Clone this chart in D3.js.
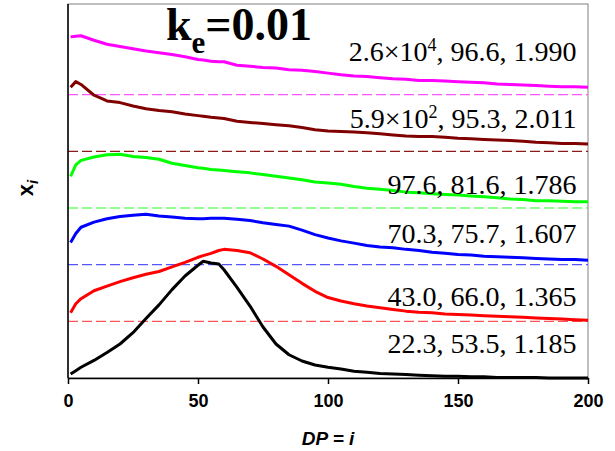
<!DOCTYPE html>
<html>
<head>
<meta charset="utf-8">
<script src="https://cdn.jsdelivr.net/npm/d3@7"></script>
<style>
  body { margin: 0; background: #fff; }
  svg { display: block; }
</style>
</head>
<body>
<svg id="chart" width="615" height="451"></svg>
<script>
var svg = d3.select("#chart"),
  width = +svg.attr("width"),
  height = +svg.attr("height");

// degree of polymerisation (x axis)
const dp = [1, 3, 5, 10, 15, 20, 25, 30, 35, 40, 45, 50, 52, 55, 58, 60, 65, 70, 75, 80, 85, 90, 95, 100,
  105, 110, 115, 120, 125, 130, 135, 140, 145, 150, 155, 160, 165, 170, 175, 180, 185, 190, 195, 200];

// x_i values (x 10^-3), before stacking
const magentaVals = [10.2, 10.3, 10.4, 9.6, 8.9, 8.5, 8.1, 7.7, 7.4, 7.1, 6.7, 6.2, 6.1, 5.9, 5.8, 5.8, 5.2, 5.0, 4.8, 4.7, 4.4, 4.3, 4.1, 3.8,
  3.5, 3.3, 3.2, 3.0, 2.8, 2.7, 2.5, 2.5, 2.4, 2.3, 2.2, 2.1, 1.9, 1.8, 1.7, 1.6, 1.5, 1.4, 1.4, 1.3];
const maroonVals = [11.3, 12.3, 11.8, 9.9, 8.9, 8.6, 8.0, 7.5, 7.2, 7.0, 6.6, 6.3, 6.2, 6.0, 5.9, 5.8, 5.3, 5.1, 4.9, 4.7, 4.5, 4.2, 3.8, 3.6,
  3.5, 3.4, 3.3, 3.1, 2.9, 2.7, 2.6, 2.6, 2.5, 2.3, 2.2, 2.1, 2.0, 1.9, 1.8, 1.6, 1.5, 1.4, 1.4, 1.3];
const greenVals = [5.6, 7.6, 8.4, 9.0, 9.4, 9.5, 9.1, 8.9, 8.6, 7.9, 7.5, 7.1, 7.0, 6.8, 6.7, 6.6, 6.4, 6.2, 5.9, 5.6, 5.3, 5.0, 4.6, 4.4,
  4.2, 3.8, 3.5, 3.3, 3.1, 2.8, 2.7, 2.5, 2.4, 2.3, 2.1, 2.0, 1.8, 1.6, 1.5, 1.3, 1.3, 1.2, 1.1, 1.1];
const blueVals = [3.9, 5.5, 6.6, 7.5, 8.1, 8.5, 8.7, 8.9, 8.6, 8.4, 8.2, 8.1, 8.1, 8.2, 8.2, 8.2, 8.0, 7.8, 7.4, 7.1, 6.8, 6.1, 5.3, 4.7,
  4.2, 3.8, 3.4, 3.1, 3.0, 2.7, 2.5, 2.2, 2.0, 1.8, 1.7, 1.5, 1.4, 1.3, 1.2, 1.1, 1.0, 0.9, 0.9, 0.8];
const redVals = [1.5, 3.1, 4.0, 5.4, 6.2, 7.0, 7.7, 8.3, 8.8, 9.6, 10.4, 11.3, 11.6, 12.0, 12.5, 12.7, 12.5, 12.1, 11.0, 9.7, 8.2, 6.7, 5.3, 4.2,
  3.6, 3.1, 2.7, 2.4, 2.1, 1.8, 1.6, 1.5, 1.3, 1.2, 1.1, 1.0, 0.9, 0.8, 0.7, 0.6, 0.5, 0.4, 0.3, 0.2];
const blackVals = [0.7, 1.3, 1.9, 3.1, 4.5, 6.0, 8.0, 10.5, 12.9, 15.6, 18.0, 19.9, 20.6, 20.3, 20.1, 19.1, 16.0, 12.7, 9.0, 6.0, 4.1, 3.0, 2.3, 1.9,
  1.6, 1.2, 1.0, 0.8, 0.7, 0.6, 0.5, 0.4, 0.3, 0.3, 0.2, 0.2, 0.1, 0.1, 0.1, 0.1, 0.0, 0.0, 0.0, 0.0];

// stacking offset of each curve
const offsets = [50, 40, 30, 20, 10, 0];
const lineColors = ["#ff00ff", "#800000", "#00ff00", "#0000ff", "#ff0000", "#000000"];
const dashColors = ["#ff55ff", "#8b1a1a", "#22ff22", "#5555ff", "#ff5555", null];

// Mn, Mw, PDI labels
const labelMain = ["2.6\u00d710", "5.9\u00d710", "97.6, 81.6, 1.786", "70.3, 75.7, 1.607", "43.0, 66.0, 1.365", "22.3, 53.5, 1.185"];
const labelSup = ["4", "2", "", "", "", ""];
const labelTail = [", 96.6, 1.990", ", 95.3, 2.011", "", "", "", ""];
const labelY = [56.0, 44.2, 32.5, 23.9, 12.7, 4.5];

const xTicks = [0, 50, 100, 150, 200];

const seriesVals = [magentaVals, maroonVals, greenVals, blueVals, redVals, blackVals];

var margin = { left: 68, right: 27, top: 4, bottom: 73 };
var x = d3.scaleLinear().domain([0, 200]).range([margin.left, width - margin.right]);
var y = d3.scaleLinear().domain([0, 66]).range([height - margin.bottom, margin.top]);

// plot frame (grey top / right)
svg.append("rect")
  .attr("x", x(0)).attr("y", y(66))
  .attr("width", x(200) - x(0)).attr("height", y(0) - y(66))
  .attr("fill", "none").attr("stroke", "#808080").attr("stroke-width", 1);

// dashed baselines
svg.append("g")
  .selectAll("line")
  .data(offsets.filter((d, i) => dashColors[i]))
  .join("line")
  .attr("x1", x(0)).attr("x2", x(200))
  .attr("y1", d => y(d)).attr("y2", d => y(d))
  .attr("stroke", (d, i) => dashColors[i])
  .attr("stroke-width", 1.2)
  .attr("stroke-dasharray", "10,4");

// curves
var line = d3.line()
  .x(d => x(d[0]))
  .y(d => y(d[1]));

svg.append("g")
  .selectAll("path")
  .data(seriesVals.map((vals, i) => vals.map((v, j) => [dp[j], v + offsets[i]])))
  .join("path")
  .attr("d", line)
  .attr("fill", "none")
  .attr("stroke", (d, i) => lineColors[i])
  .attr("stroke-width", 3)
  .attr("stroke-linejoin", "round");

// axes
var xAxis = svg.append("g")
  .attr("transform", "translate(0," + y(0) + ")")
  .call(d3.axisBottom(x).tickValues(xTicks).tickSize(6).tickSizeOuter(0).tickPadding(10));
xAxis.select(".domain").attr("stroke", "#000").attr("stroke-width", 1.5);
xAxis.selectAll(".tick line").attr("stroke", "#000").attr("stroke-width", 1.5);
xAxis.selectAll(".tick text")
  .attr("font-family", "'Liberation Sans', Arial, sans-serif")
  .attr("font-weight", "bold")
  .attr("font-size", 18)
  .attr("fill", "#000");

svg.append("line")
  .attr("x1", x(0)).attr("x2", x(0))
  .attr("y1", y(0)).attr("y2", y(66))
  .attr("stroke", "#000").attr("stroke-width", 1.5);

// labels
var lab = svg.append("g")
  .attr("font-family", "'Liberation Serif', 'Times New Roman', serif")
  .attr("font-size", 28)
  .attr("text-anchor", "end")
  .selectAll("text")
  .data(labelMain)
  .join("text")
  .attr("x", x(195.6))
  .attr("y", (d, i) => y(labelY[i]));
lab.append("tspan").text(d => d);
lab.append("tspan")
  .attr("font-size", 18)
  .attr("dy", -10)
  .text((d, i) => labelSup[i]);
lab.append("tspan")
  .attr("dy", (d, i) => labelSup[i] ? 10 : 0)
  .text((d, i) => labelTail[i]);

// title
var title = svg.append("text")
  .attr("x", 166).attr("y", 40)
  .attr("font-family", "'Liberation Serif', 'Times New Roman', serif")
  .attr("font-weight", "bold")
  .attr("font-size", 46);
title.append("tspan").text("k");
title.append("tspan").attr("font-size", 31).attr("dy", 13).text("e");
title.append("tspan").attr("dy", -13).text("=0.01");

// axis titles
svg.append("text")
  .attr("x", (x(0) + x(200)) / 2).attr("y", 445)
  .attr("text-anchor", "middle")
  .attr("font-family", "'Liberation Sans', Arial, sans-serif")
  .attr("font-weight", "bold")
  .attr("font-style", "italic")
  .attr("font-size", 19)
  .text("DP = i");

var yt = svg.append("text")
  .attr("transform", "translate(33,188) rotate(-90)")
  .attr("text-anchor", "middle")
  .attr("font-family", "'Liberation Sans', Arial, sans-serif")
  .attr("font-weight", "bold")
  .attr("font-size", 22);
yt.append("tspan").text("x");
yt.append("tspan").attr("font-style", "italic").attr("font-size", 15).attr("dy", 5).text("i");
</script>
</body>
</html>
